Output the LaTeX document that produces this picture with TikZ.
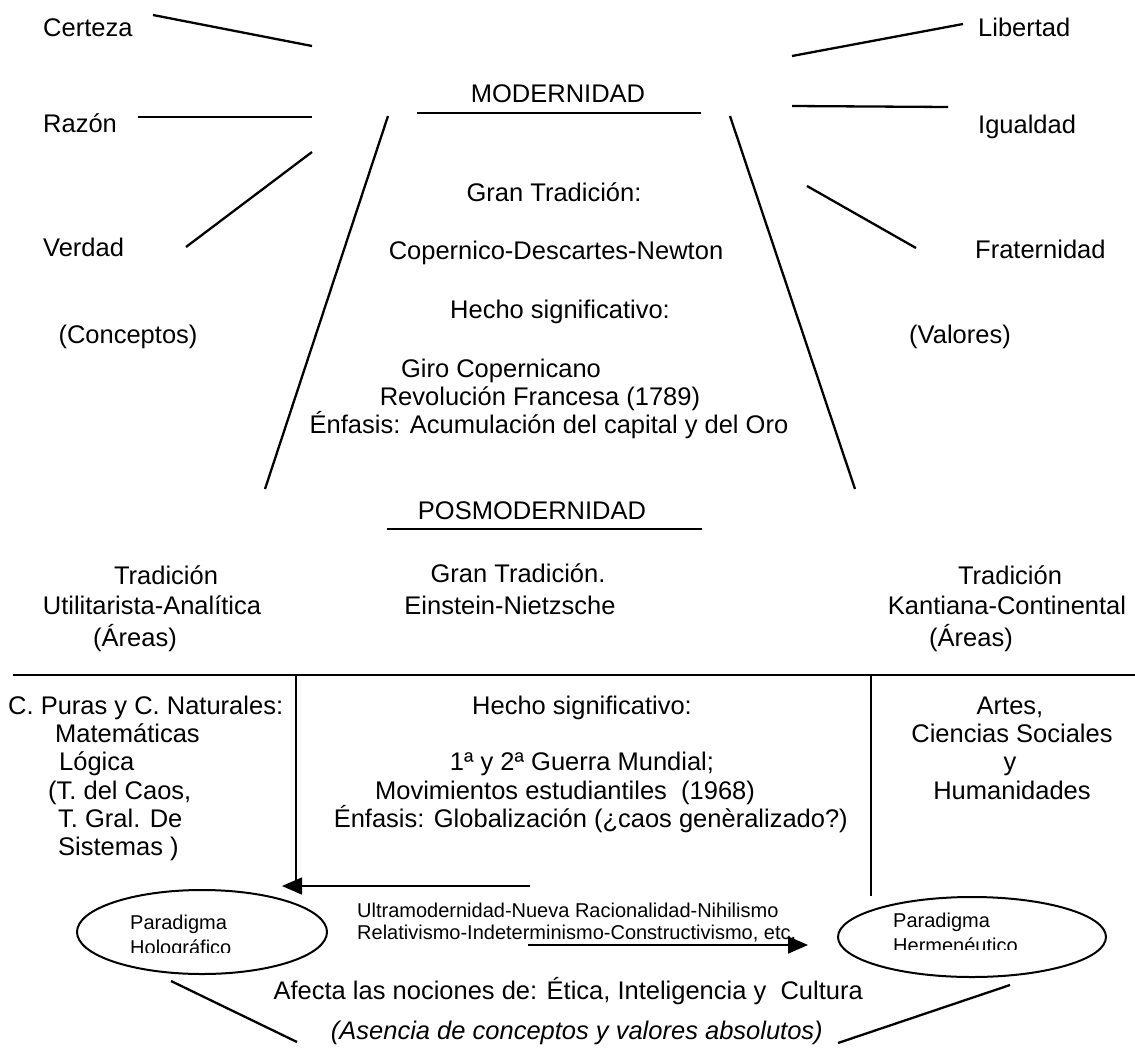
\documentclass[tikz,border=0pt]{standalone}
\usepackage{fontspec}
\setmainfont{Liberation Sans}
\usetikzlibrary{arrows.meta,shapes.geometric}
\begin{document}
\begin{tikzpicture}[x=1pt,y=-1pt,
  T/.style={font=\fontsize{25.5}{29}\selectfont, inner sep=0pt, anchor=base, yshift=-9.1pt},
  S/.style={font=\fontsize{20}{23}\selectfont, inner sep=0pt, anchor=base, yshift=-7.2pt},
  ln/.style={line width=2.3pt},
  rule/.style={line width=1.7pt},
  arr/.style={line width=1.7pt,-{Triangle[length=20pt,width=17pt]}},
  ell/.style={line width=2pt}
]
\useasboundingbox (0,0) rectangle (1135,1052);
\fill[white] (0,0) rectangle (1135,1052);

% ---------- top left concepts ----------
\node[T,anchor=base west] (certeza) at (43,27) {Certeza};
\node[T,anchor=base west] (razon) at (43,123) {Razón};
\node[T,anchor=base west] (verdad) at (43,247) {Verdad};
\node[T] (conceptos) at (128,334) {(Conceptos)};
% ---------- top right values ----------
\node[T,anchor=base west] (libertad) at (978,27) {Libertad};
\node[T,anchor=base west] (igualdad) at (978,124) {Igualdad};
\node[T,anchor=base west] (fraternidad) at (975,249) {Fraternidad};
\node[T] (valores) at (960,334) {(Valores)};

% connector end points
\coordinate (c1a) at (153,15);  \coordinate (c1b) at (312,46);
\coordinate (c2a) at (138,117); \coordinate (c2b) at (312,117);
\coordinate (c3a) at (186,247); \coordinate (c3b) at (312,152);
\coordinate (v1a) at (792,56);  \coordinate (v1b) at (963,24);
\coordinate (v2a) at (792,106); \coordinate (v2b) at (948,107);
\coordinate (v3a) at (807,186); \coordinate (v3b) at (916,248);
\draw[ln] (c1a) -- (c1b);
\draw[ln] (c2a) -- (c2b);
\draw[ln] (c3a) -- (c3b);
\draw[ln] (v1a) -- (v1b);
\draw[ln] (v2a) -- (v2b);
\draw[ln] (v3a) -- (v3b);

% ---------- trapezoid ----------
\coordinate (tl) at (388,116); \coordinate (bl) at (265,489);
\coordinate (tr) at (730,116); \coordinate (br) at (855,489);
\draw[ln] (tl) -- (bl);
\draw[ln] (tr) -- (br);

\node[T] (modern) at (558,93) {MODERNIDAD};
\coordinate (u1a) at (417,113); \coordinate (u1b) at (701,113);
\draw[rule] (u1a) -- (u1b);

\node[T] (gt1) at (554,192) {Gran Tradición:};
\node[T] (cdn) at (556,250) {Copernico-Descartes-Newton};
\node[T] (hs1) at (560,309) {Hecho significativo:};
\node[T] (giro) at (501,368) {Giro Copernicano};
\node[T] (revo) at (540,396) {Revolución Francesa (1789)};
\node[T] (enf1) at (549,424) {Énfasis: Acumulación del capital y del Oro};

\node[T] (posmod) at (532,510) {POSMODERNIDAD};
\coordinate (u2a) at (387,529); \coordinate (u2b) at (702,529);
\draw[rule] (u2a) -- (u2b);

% ---------- traditions ----------
\node[T] (tradL) at (166,575) {Tradición};
\node[T] (utilL) at (152,605) {Utilitarista-Analítica};
\node[T] (areasL) at (135,637) {(Áreas)};
\node[T] (gt2) at (518,573) {Gran Tradición.};
\node[T] (einst) at (510,605) {Einstein-Nietzsche};
\node[T] (tradR) at (1010,575) {Tradición};
\node[T] (kant) at (1007,605) {Kantiana-Continental};
\node[T] (areasR) at (971,637) {(Áreas)};

% ---------- table lines ----------
\coordinate (h1) at (13,675); \coordinate (h2) at (1135,675);
\draw[rule] (h1) -- (h2);
\coordinate (vLt) at (296,675); \coordinate (vLb) at (296,886);
\coordinate (vRt) at (871,675); \coordinate (vRb) at (871,896);
\draw[rule] (vLt) -- (vLb);
\draw[rule] (vRt) -- (vRb);

% ---------- left column ----------
\node[T,anchor=base west] (cp) at (8,705) {C. Puras y C. Naturales:};
\node[T,anchor=base west] (mat) at (55,733) {Matemáticas};
\node[T,anchor=base west] (log) at (59,761) {Lógica};
\node[T,anchor=base west] (caos) at (48,790) {(T. del Caos,};
\node[T,anchor=base west] (gral) at (58,818) {T. Gral. De};
\node[T,anchor=base west] (sist) at (58,846) {Sistemas )};

% ---------- middle column ----------
\node[T] (hs2) at (582,705) {Hecho significativo:};
\node[T] (guerra) at (582,761) {1ª y 2ª Guerra Mundial;};
\node[T] (movi) at (565,790) {Movimientos estudiantiles\ \ (1968)};
\node[T,anchor=base east] (enf2) at (848,818) {Énfasis: Globalización (¿caos genèralizado?)};

% ---------- right column ----------
\node[T] (artes) at (1010,705) {Artes,};
\node[T] (cienc) at (1012,733) {Ciencias Sociales};
\node[T] (yy) at (1010,761) {y};
\node[T] (human) at (1012,790) {Humanidades};

% ---------- paradigms ----------
\node[ell,draw,ellipse,minimum width=250pt,minimum height=84pt, inner sep=0pt] (ellL) at (202,932) {};
\node[ell,draw,ellipse,minimum width=268pt,minimum height=80pt, inner sep=0pt] (ellR) at (972,937) {};
\begin{scope}
\clip (100,900) rectangle (300,952);
\node[S,anchor=base west] (parL) at (130,922) {Paradigma};
\node[S,anchor=base west] (holo) at (130,947) {Holográfico};
\end{scope}
\begin{scope}
\clip (860,900) rectangle (1080,949);
\node[S,anchor=base west] (parR) at (893,920) {Paradigma};
\node[S,anchor=base west] (herm) at (893,945) {Hermenéutico};
\end{scope}

\coordinate (a1s) at (530,886); \coordinate (a1e) at (282,886);
\draw[arr] (a1s) -- (a1e);
\node[S,anchor=base west] (ultra) at (357,910) {Ultramodernidad-Nueva Racionalidad-Nihilismo};
\node[S,anchor=base west] (rela) at (357,932) {Relativismo-Indeterminismo-Constructivismo, etc.};
\coordinate (a2s) at (528,945); \coordinate (a2e) at (808,945);
\draw[arr] (a2s) -- (a2e);

\node[T,anchor=base east] (afecta) at (863,990) {Afecta las nociones de: Ética, Inteligencia y\ \ Cultura};
\node[T,anchor=base east,font=\fontsize{25.5}{29}\selectfont\itshape] (asencia) at (823,1030) {(Asencia de conceptos y valores absolutos)};

\coordinate (lbl1) at (171,981); \coordinate (lbl2) at (297,1042);
\coordinate (lbr1) at (1010,985); \coordinate (lbr2) at (838,1043);
\draw[ln] (lbl1) -- (lbl2);
\draw[ln] (lbr1) -- (lbr2);
\end{tikzpicture}
\end{document}
